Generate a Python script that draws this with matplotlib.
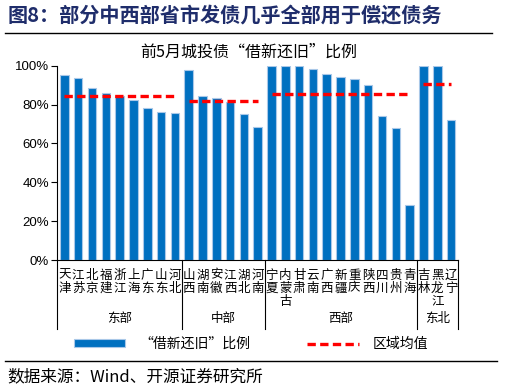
import numpy as np
import matplotlib
matplotlib.use("Agg")
import matplotlib.pyplot as plt
from matplotlib.lines import Line2D
from matplotlib.transforms import blended_transform_factory
from matplotlib.ticker import FuncFormatter

plt.rcParams['font.family'] = ['Noto Sans CJK SC', 'DejaVu Sans']

# --- DATA ---
provinces = ['天津', '江苏', '北京', '福建', '浙江', '上海', '广东', '山东', '河北',
             '山西', '湖南', '安徽', '江西', '湖北', '河南',
             '宁夏', '内蒙古', '甘肃', '云南', '广西', '新疆', '重庆', '陕西', '四川', '贵州', '青海',
             '吉林', '黑龙江', '辽宁']
ratios = [95.2, 93.5, 88.5, 85.8, 84.4, 82.5, 78.4, 76.2, 75.8,
          97.6, 84.2, 83.4, 81.3, 75.3, 68.4,
          100, 100, 100, 98.1, 95.9, 94.0, 93.2, 90.2, 73.9, 67.8, 28.5,
          100, 100, 72.2]
regions = ['东部', '中部', '西部', '东北']
region_sizes = [9, 6, 11, 3]
region_means = [84.4, 81.7, 85.6, 90.7]
yticks = [0, 20, 40, 60, 80, 100]

BAR_COLOR = '#0070C0'
TITLE_COLOR = '#1F2D6B'

fig = plt.figure(figsize=(5.1, 3.92), dpi=100)
ax = fig.add_axes([0.1127, 0.3367, 0.7853, 0.4957])

x = np.arange(len(provinces))
bars = ax.bar(x, np.array(ratios) / 100, width=0.62, color=BAR_COLOR,
              edgecolor='#A9C8E8', linewidth=0.8)

# region mean lines
start = 0
mean_handle = None
for n, m in zip(region_sizes, region_means):
    xs = x[start:start + n]
    ln, = ax.plot(xs, [m / 100] * n, color='red', lw=2.4, ls=(0, (2.5, 1.3)))
    mean_handle = ln
    start += n

ax.set_xlim(-0.5, len(provinces) - 0.5)
ax.set_ylim(0, 1)
ax.set_yticks([v / 100 for v in yticks])
ax.yaxis.set_major_formatter(FuncFormatter(lambda v, p: f"{v:.0%}"))
ax.set_xticks([])
for lab in ax.get_yticklabels():
    lab.set_fontfamily('Liberation Sans')
    lab.set_fontsize(9.5)
ax.tick_params(axis='y', direction='out', length=4, width=0.8, pad=2)
ax.spines['top'].set_visible(False)
ax.spines['right'].set_visible(False)
ax.spines['left'].set_linewidth(0.8)
ax.spines['bottom'].set_linewidth(0.8)

trans = blended_transform_factory(ax.transData, ax.transAxes)

# category labels, stacked vertically
for i, p in enumerate(provinces):
    ax.text(i, -0.045, '\n'.join(p), transform=trans, ha='center', va='top',
            fontsize=9, linespacing=1.0)

# region separators and names
bounds = np.concatenate([[0], np.cumsum(region_sizes)]) - 0.5
for b in bounds:
    ax.plot([b, b], [0, -0.355], transform=trans, color='black', lw=0.8, clip_on=False)
for name, lo, hi in zip(regions, bounds[:-1], bounds[1:]):
    ax.text((lo + hi) / 2, -0.30, name, transform=trans, ha='center', va='center', fontsize=9)

# legend
fig.legend([bars, mean_handle], ['“借新还旧”比例', '区域均值'], loc='center',
           bbox_to_anchor=(0.492, 0.1224), ncol=2, frameon=False, fontsize=10,
           handlelength=3.7, handleheight=0.45, columnspacing=4.1, handletextpad=1)

# title, rules, source
fig.text(0.015, 1 - 15 / 392, '图8：部分中西部省市发债几乎全部用于偿还债务', fontsize=14.5,
         fontweight='bold', color=TITLE_COLOR, va='center')
fig.add_artist(Line2D([5 / 510, 492 / 510], [1 - 33 / 392] * 2, color='black', lw=1))
fig.text(249 / 510, 1 - 52 / 392, '前5月城投债“借新还旧”比例', ha='center', va='center', fontsize=11.5)
fig.add_artist(Line2D([5 / 510, 497 / 510], [1 - 361 / 392] * 2, color='black', lw=1))
fig.text(0.014, 1 - 377 / 392, '数据来源：Wind、开源证券研究所', va='center', fontsize=12)

fig.savefig('out.png', dpi=100)
